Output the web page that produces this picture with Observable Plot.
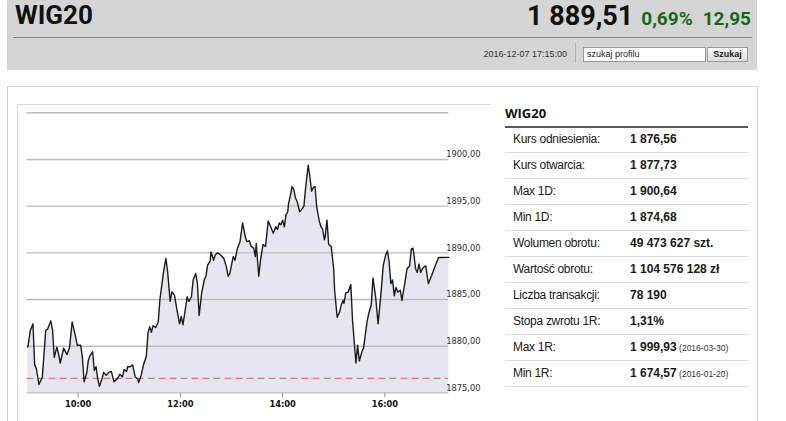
<!DOCTYPE html>
<html>
<head>
<meta charset="utf-8">
<script src="https://cdn.jsdelivr.net/npm/d3@7"></script>
<script src="https://cdn.jsdelivr.net/npm/@observablehq/plot@0.6"></script>
<style>
  html, body { margin: 0; padding: 0; width: 786px; height: 421px; overflow: hidden; background: #fff; }
  .abs { position: absolute; }
  #head { left: 7px; top: 0; width: 750px; height: 70px; background: #d5d5d5; }
  #title { left: 15px; top: 2.4px; font: bold 26px/26px Roboto, "Open Sans", sans-serif; color: #111; }
  #sep { left: 13px; top: 37px; width: 739px; height: 1px; background: #8a8a8a; }
  #price { right: 35px; top: 3px; display: flex; align-items: baseline; font-family: Roboto, "Open Sans", sans-serif; font-weight: bold; line-height: 26px; }
  #price .p { font-size: 27px; color: #111; }
  #price .g { font-size: 19px; color: #17661c; }
  #date { right: 219px; top: 48px; font: 9px/12px "Liberation Sans", Arial, sans-serif; color: #333; }
  #vsep { left: 575px; top: 43px; width: 1px; height: 20px; background: #b0b0b0; }
  #inp { left: 583px; top: 47px; width: 118px; height: 13px; background: #fff; border: 1px solid #9a9a9a; font: 9px/13px "Liberation Sans", Arial, sans-serif; color: #222; padding-left: 3px; box-sizing: content-box; }
  #btn { left: 707px; top: 47px; width: 39px; height: 13px; border: 1px solid #9a9a9a; background: linear-gradient(#fbfbfb, #dcdcdc); font: bold 9px/13px "Liberation Sans", Arial, sans-serif; color: #222; text-align: center; }
  #panel { left: 7px; top: 86px; width: 749px; height: 360px; border: 1px solid #d3d3d3; }
  #frame { left: 17px; top: 104px; width: 473px; height: 340px; border-top: 1px solid #dcdcdc; border-left: 1px solid #dcdcdc; }
  #chart { left: 17px; top: 104px; }
  #tbl-title { left: 505px; top: 105px; font: bold 13px/16px "Open Sans", sans-serif; color: #111; }
  #tbl-line { left: 505px; top: 126px; width: 243px; height: 2px; background: #5a5a5a; }
  .row { position: absolute; left: 505px; width: 243px; height: 25px; border-bottom: 1px solid #dcdcdc; font: 12px/25px "Liberation Sans", Arial, sans-serif; color: #1a1a1a; }
  .row .l { position: absolute; left: 8px; letter-spacing: -0.3px; }
  .row .v { position: absolute; left: 125px; font-weight: bold; white-space: nowrap; }
  .row .v small { font-weight: normal; font-size: 8.5px; color: #333; }
</style>
</head>
<body>
<div id="head" class="abs"></div>
<div id="title" class="abs">WIG20</div>
<div id="sep" class="abs"></div>
<div id="price" class="abs"><span class="p">1 889,51</span><span class="g" style="margin-left:8px">0,69%</span><span class="g" style="margin-left:10px">12,95</span></div>
<div id="date" class="abs">2016-12-07 17:15:00</div>
<div id="vsep" class="abs"></div>
<div id="inp" class="abs">szukaj profilu</div>
<div id="btn" class="abs">Szukaj</div>
<div id="panel" class="abs"></div>
<div id="frame" class="abs"></div>
<div id="chart" class="abs"></div>
<div id="tbl-title" class="abs">WIG20</div>
<div id="tbl-line" class="abs"></div>
<div id="tbl"></div>
<script>
// Intraday WIG20, 2016-12-07
const times = ["09:01","09:04","09:07","09:09","09:11","09:14","09:18","09:22","09:24","09:28","09:30","09:32","09:35","09:37","09:39","09:43","09:47","09:50","09:53","09:57","09:59",
"10:03","10:05","10:07","10:10","10:12","10:14","10:17","10:19","10:21","10:23","10:25","10:28","10:30","10:33","10:36","10:39","10:42","10:46","10:49","10:52","10:54","10:57","10:58",
"11:01","11:04","11:07","11:10","11:11","11:14","11:17","11:20","11:22","11:24","11:26","11:28","11:31","11:34","11:36","11:40","11:43","11:45","11:48","11:50","11:53","11:56","11:59",
"12:01","12:03","12:05","12:08","12:10","12:13","12:15","12:18","12:20","12:22","12:25","12:28","12:30","12:32","12:35","12:36","12:39","12:41","12:44","12:47","12:51","12:54","12:56","12:58",
"13:02","13:04","13:07","13:10","13:13","13:16","13:18","13:21","13:23","13:26","13:28","13:29","13:32","13:34","13:37","13:40","13:43","13:46","13:49","13:52","13:54","13:56","13:58",
"14:00","14:02","14:04","14:06","14:07","14:09","14:11","14:13","14:15","14:17","14:20","14:22","14:25","14:27","14:30","14:32","14:34","14:36","14:38","14:40","14:43","14:45","14:47","14:49","14:50","14:52","14:54","14:57",
"15:00","15:01","15:04","15:07","15:09","15:11","15:12","15:14","15:17","15:20","15:22","15:26","15:28","15:30","15:33","15:35","15:39","15:41","15:44","15:46","15:49","15:52","15:55","15:58",
"16:01","16:03","16:05","16:07","16:09","16:11","16:13","16:15","16:18","16:20","16:24","16:26","16:29","16:31","16:33","16:34","16:36","16:38","16:40","16:42","16:44","16:46","16:48","16:51","16:55","16:59",
"17:03","17:15"];
const values = [1879.9,1881.7,1882.4,1878.0,1877.6,1875.9,1876.7,1881.7,1881.8,1882.7,1881.7,1878.8,1879.9,1879.2,1878.2,1879.8,1879.1,1879.9,1882.6,1881.0,1880.1,
1880.1,1878.8,1876.2,1877.1,1878.5,1879.0,1879.4,1877.4,1877.8,1876.5,1875.7,1876.5,1877.2,1876.9,1877.2,1877.3,1876.2,1876.5,1877.0,1876.7,1877.5,1877.3,1877.8,
1877.8,1878.0,1876.7,1876.5,1876.1,1876.9,1878.1,1878.9,1881.4,1882.1,1881.5,1882.2,1882.0,1882.6,1885.0,1887.8,1889.4,1888.0,1884.8,1885.8,1885.5,1883.9,1882.4,
1883.2,1882.3,1883.5,1885.3,1884.8,1885.3,1887.1,1887.8,1886.7,1883.3,1885.7,1887.1,1887.5,1888.7,1889.1,1890.1,1889.2,1889.8,1890.0,1889.8,1889.4,1888.5,1887.5,1887.8,
1889.6,1889.2,1890.5,1891.2,1893.2,1891.8,1891.2,1891.3,1890.7,1890.5,1889.6,1891.0,1887.5,1889.2,1890.9,1890.7,1893.4,1892.8,1892.1,1892.8,1892.5,1893.2,1893.0,
1893.5,1892.8,1894.1,1894.4,1895.3,1896.1,1897.1,1896.8,1895.9,1895.5,1894.4,1894.6,1895.0,1897.0,1899.4,1898.1,1896.6,1897.0,1897.1,1894.9,1893.4,1892.8,1892.5,1891.4,1891.8,1893.5,1890.9,1890.7,
1888.2,1886.0,1883.1,1883.7,1884.5,1884.9,1884.6,1885.7,1885.8,1886.6,1882.8,1878.2,1880.1,1878.4,1879.4,1879.8,1882.6,1883.5,1884.4,1887.3,1885.4,1882.4,1885.2,1888.6,
1889.8,1890.2,1889.0,1886.7,1887.1,1885.4,1886.3,1885.8,1886.0,1884.9,1887.1,1888.3,1888.6,1890.4,1890.5,1889.9,1888.3,1887.9,1888.8,1887.9,1888.3,1888.5,1888.6,1886.7,1887.6,1888.6,
1889.5,1889.51];
const yTicks = [1875, 1880, 1885, 1890, 1895, 1900];
const gridValues = [1875, 1880, 1885, 1890, 1895, 1900, 1905];
const xTickLabels = ["10:00", "12:00", "14:00", "16:00"];
const referencePrice = 1876.56;
const domainStart = "09:00", domainEnd = "17:15";

const rowLabels = ["Kurs odniesienia:", "Kurs otwarcia:", "Max 1D:", "Min 1D:", "Wolumen obrotu:", "Wartość obrotu:", "Liczba transakcji:", "Stopa zwrotu 1R:", "Max 1R:", "Min 1R:"];
const rowValues = ["1 876,56", "1 877,73", "1 900,64", "1 874,68", "49 473 627 szt.", "1 104 576 128 zł", "78 190", "1,31%", "1 999,93", "1 674,57"];
const rowNotes = ["", "", "", "", "", "", "", "", "(2016-03-30)", "(2016-01-20)"];

const toDate = s => { const [h, m] = s.split(":").map(Number); return new Date(Date.UTC(2016, 11, 7, h, m)); };
const data = times.map((t, i) => ({t: toDate(t), v: values[i]}));
const fmtY = d => d.toFixed(2).replace(".", ",");

const chart = Plot.plot({
  width: 475,
  height: 317,
  marginLeft: 9.5,
  marginRight: 43.7,
  marginTop: 8.3,
  marginBottom: 28.6,
  style: {fontFamily: "DejaVu Sans, sans-serif", fontSize: "8.3px", background: "transparent", overflow: "visible"},
  x: {type: "utc", domain: [toDate(domainStart), toDate(domainEnd)]},
  y: {domain: [1875, 1905]},
  marks: [
    Plot.areaY(data, {x: "t", y1: 1875, y2: "v", fill: "#e4e7ef"}),
    Plot.ruleY(gridValues, {stroke: "#bcbcbc", strokeWidth: 1.4}),
    Plot.ruleY([referencePrice], {stroke: "#d9787c", strokeWidth: 1.3, strokeDasharray: "7,4"}),
    Plot.lineY(data, {x: "t", y: "v", stroke: "#1c1c1c", strokeWidth: 1.4}),
    Plot.axisX({ticks: xTickLabels.map(toDate), tickFormat: d3.utcFormat("%H:%M"), tickSize: 5, tickPadding: 3, stroke: "#9a9a9a", fill: "#111", fontWeight: "bold", label: null}),
    Plot.axisY({anchor: "right", ticks: yTicks, tickFormat: fmtY, tickSize: 0, tickPadding: -2.6, dy: -5, fill: "#333", label: null})
  ]
});
document.getElementById("chart").appendChild(chart);

const tbl = document.getElementById("tbl");
rowLabels.forEach((lab, i) => {
  const r = document.createElement("div");
  r.className = "row";
  r.style.top = (127 + 26 * i) + "px";
  const l = document.createElement("span"); l.className = "l"; l.textContent = lab;
  const v = document.createElement("span"); v.className = "v"; v.textContent = rowValues[i];
  if (rowNotes[i]) { const s = document.createElement("small"); s.textContent = " " + rowNotes[i]; v.appendChild(s); }
  r.appendChild(l); r.appendChild(v);
  tbl.appendChild(r);
});
</script>
</body>
</html>
